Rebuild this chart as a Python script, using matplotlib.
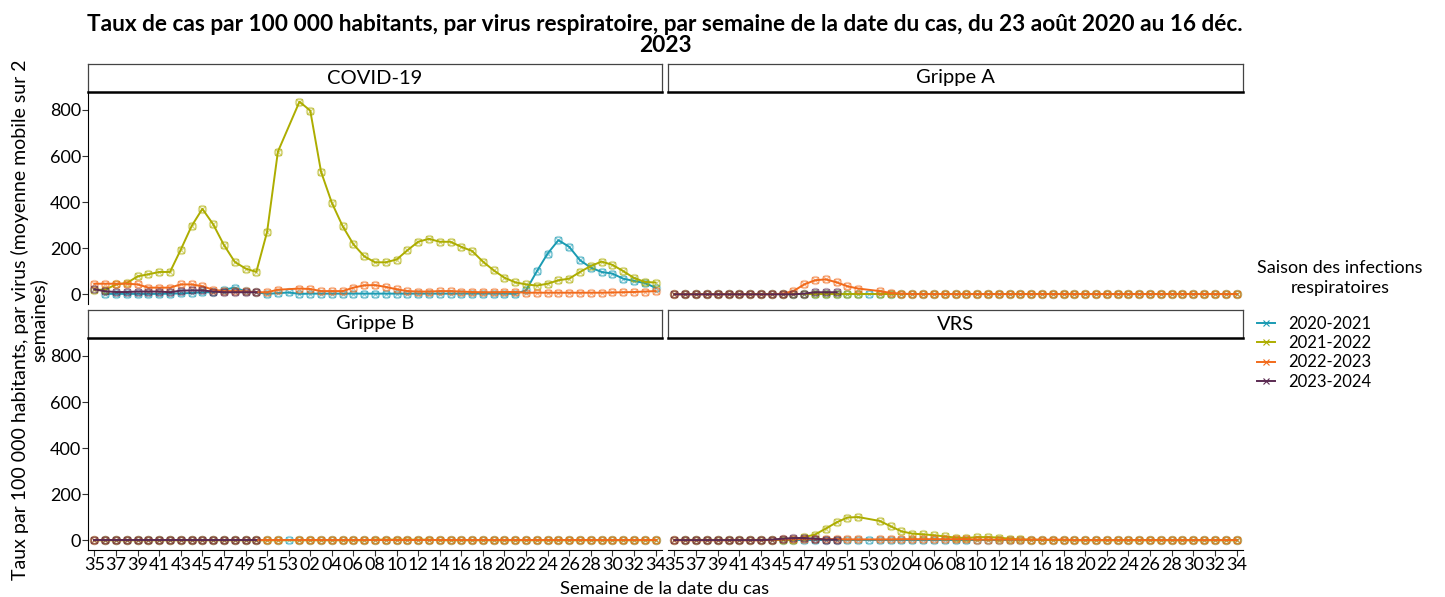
import numpy as np
import matplotlib
matplotlib.use("Agg")
from matplotlib import pyplot as plt
from matplotlib.lines import Line2D

plt.rcParams['font.family'] = ['Lato', 'DejaVu Sans']

# x categories: week 35..53 then 01..34
weeks = [str(w) for w in range(35, 54)] + ["%02d" % w for w in range(1, 35)]
tick_labels = weeks[::2]

seasons = ["2020-2021", "2021-2022", "2022-2023", "2023-2024"]
colors = ["#1a9bb3", "#adad00", "#f26a1b", "#5b2a52"]
viruses = ["COVID-19", "Grippe A", "Grippe B", "VRS"]
N = None

# COVID-19
covid_2021 = [N, 2, 2, 2, 2, 2, 2, 3, 4, 6, 9, 9, 20, 29, 13, 9, 2, 5, 8, 2,
              3, 3, 3, 3, 3, 3, 3, 3, 3, 3, 3, 3, 3, 3, 3, 3, 3, 3, 3, 2,
              17, 100, 177, 235, 206, 148, 116, 97, 90, 68, 58, 49, 29]
covid_2122 = [20, 20, 43, 49, 78, 87, 97, 97, 194, 296, 371, 304, 214, 141, 112, 97, 271, 619, N, 836,
              797, 532, 397, 296, 217, 165, 139, 139, 151, 191, 228, 241, 228, 228, 206, 188, 142, 104, 72, 52,
              43, 38, 46, 61, 68, 97, 123, 142, 128, 101, 71, 54, 51]
covid_2223 = [46, 46, 46, 46, 43, 29, 29, 29, 43, 43, 35, 20, 14, 14, 13, 9, 9, 20, N, 25,
              23, 14, 14, 14, 29, 39, 40, 32, 22, 14, 12, 12, 14, 14, 12, 10, 9, 9, 10, 10,
              7, 7, 7, 7, 7, 7, 7, 7, 8, 9, 10, 12, 14]
covid_2324 = [22, 13, 10, 10, 12, 12, 12, 9, 16, 17, 17, 12, 9, 9, 9, 9] + [N] * 37

# Grippe A
grippeA_2021 = [N] + [0] * 52
grippeA_2122 = [0] * 18 + [N] + [0] * 34
grippeA_2223 = [0, 0, 0, 0, 0, 0, 0, 0, 0, 0, 3, 14, 43, 61, 65, 52, 35, 25, N, 14,
                6, 3] + [1] * 31
grippeA_2324 = [0] * 12 + [3, 9, 9, 9] + [N] * 37

# Grippe B
grippeB_2021 = [N] + [0] * 52
grippeB_2122 = [0] * 18 + [N] + [0] * 7 + [3, 3, 3, 3, 3, 3] + [0] * 21
grippeB_2223 = [0] * 18 + [N] + [0] * 34
grippeB_2324 = [0] * 16 + [N] * 37

# VRS
vrs_2021 = [N] + [1] * 52
vrs_2122 = [2] * 12 + [14, 25, 51, 78, 99, 101, N, 84, 61, 39, 29, 26, 22, 17, 12, 10,
                       14, 14, 12, 7, 4, 3, 2, 1, 1] + [0] * 16
vrs_2223 = [0] * 9 + [2, 4, 6, 6, 6, 5, 5, 4, 4, N, 4, 4] + [5] * 7 + [3] * 9 + [1] * 16
vrs_2324 = [1] * 9 + [3, 7, 10, 10, 7, 3, 3] + [N] * 37

data = {
    "COVID-19": [covid_2021, covid_2122, covid_2223, covid_2324],
    "Grippe A": [grippeA_2021, grippeA_2122, grippeA_2223, grippeA_2324],
    "Grippe B": [grippeB_2021, grippeB_2122, grippeB_2223, grippeB_2324],
    "VRS": [vrs_2021, vrs_2122, vrs_2223, vrs_2324],
}

W, H = 1445, 597
fig = plt.figure(figsize=(W / 100, H / 100), dpi=100)

def box(x0, x1, y0, y1):
    return [x0 / W, 1 - y1 / H, (x1 - x0) / W, (y1 - y0) / H]

cols = [(88, 662), (668, 1243)]
plot_rows = [(92, 304), (338, 550)]
strip_rows = [(64, 92), (310, 338)]

x = np.arange(len(weeks))

for k, virus in enumerate(viruses):
    r, c = divmod(k, 2)
    ax = fig.add_axes(box(cols[c][0], cols[c][1], plot_rows[r][0], plot_rows[r][1]))
    for s, series in enumerate(data[virus]):
        y = np.array([np.nan if v is None else v for v in series], dtype=float)
        m = ~np.isnan(y)
        ax.plot(x[m], y[m], color=colors[s], lw=1.4, zorder=2 + s)
        ax.plot(x[m], y[m], ls="none", marker="s", ms=5, mfc="none",
                mec=colors[s], mew=0.8, alpha=0.5, zorder=2 + s)
        ax.plot(x[m], y[m], ls="none", marker="o", ms=6, mfc="none",
                mec=colors[s], mew=0.7, alpha=0.4, zorder=2 + s)
        ax.plot(x[m], y[m], ls="none", marker="x", ms=5, mec=colors[s],
                mew=0.8, alpha=0.5, zorder=2 + s)
    ax.set_xlim(-0.6, len(weeks) - 0.4)
    ax.set_ylim(-42, 878)
    ax.set_yticks([0, 200, 400, 600, 800])
    ax.set_xticks(x[::2])
    for sp in ["top", "right"]:
        ax.spines[sp].set_visible(False)
    ax.spines["left"].set_visible(c == 0)
    ax.spines["bottom"].set_visible(r == 1)
    ax.tick_params(axis="y", left=(c == 0), labelleft=(c == 0), labelsize=13,
                   length=4, color="#333333", pad=1)
    ax.tick_params(axis="x", bottom=(r == 1), labelbottom=(r == 1), labelsize=13,
                   length=4, color="#333333", pad=1)
    if r == 1:
        ax.set_xticklabels(tick_labels)
    # strip
    sx = fig.add_axes(box(cols[c][0], cols[c][1], strip_rows[r][0], strip_rows[r][1]))
    sx.set_xticks([])
    sx.set_yticks([])
    for sp in sx.spines.values():
        sp.set_color("#444444")
        sp.set_linewidth(0.9)
    sx.spines["bottom"].set_color("black")
    sx.spines["bottom"].set_linewidth(1.8)
    sx.text(0.5, 0.5, virus, ha="center", va="center", fontsize=14.5, transform=sx.transAxes)

fig.text(665 / W, 1 - 35 / H,
         "Taux de cas par 100 000 habitants, par virus respiratoire, par semaine de la date du cas, du 23 août 2020 au 16 déc.\n2023",
         ha="center", va="center", fontsize=16.3, fontweight="bold", linespacing=1.05)
fig.text(665 / W, 1 - 589 / H, "Semaine de la date du cas", ha="center", va="center", fontsize=13.3)
fig.text(29 / W, 1 - 320 / H,
         "Taux par 100 000 habitants, par virus (moyenne mobile sur 2\nsemaines)",
         ha="center", va="center", rotation=90, fontsize=14, linespacing=1.05)

fig.text(1340 / W, 1 - 278 / H, "Saison des infections\nrespiratoires",
         ha="center", va="center", fontsize=13, linespacing=1.25)
handles = [Line2D([0], [0], color=colors[s], lw=1.4, marker="x", ms=5, mew=0.8)
           for s in range(4)]
leg = fig.legend(handles, seasons, loc="upper left", bbox_to_anchor=(1250 / W, 1 - 309 / H),
                 frameon=False, fontsize=12, handlelength=1.1, handletextpad=0.8,
                 labelspacing=0.2, borderaxespad=0)

fig.savefig("out.png", dpi=100)
